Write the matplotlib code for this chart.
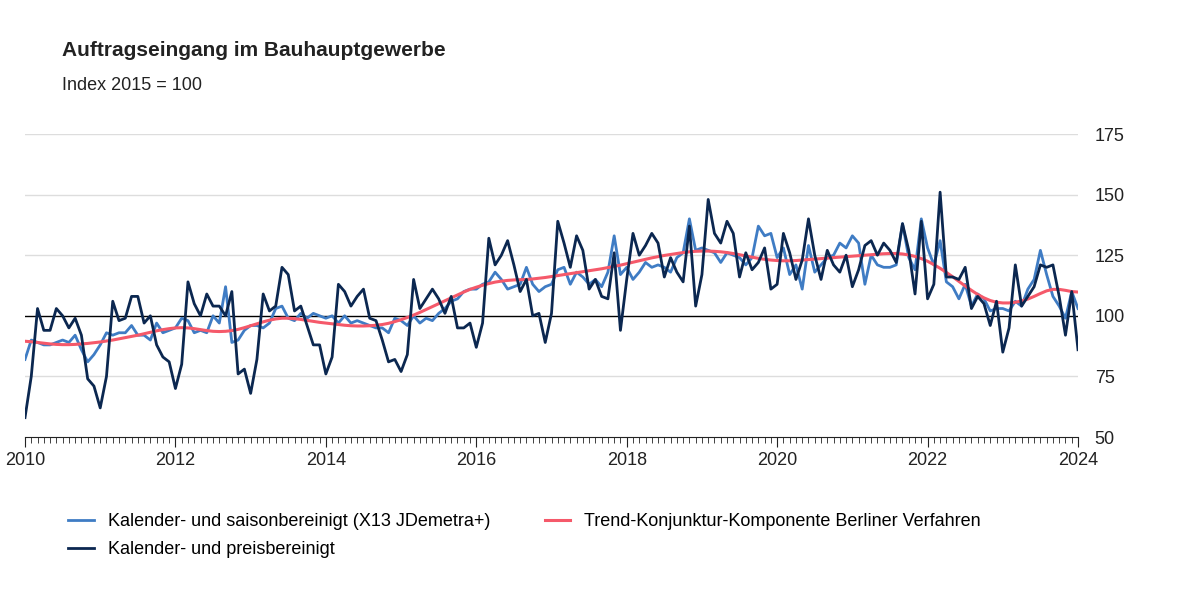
import numpy as np
import pandas as pd
import matplotlib.pyplot as plt

plt.rcParams['font.family'] = ['Liberation Sans', 'DejaVu Sans']

# Monthly values Jan 2010 .. Jan 2024 (index 2015 = 100)
months = pd.date_range('2010-01-01', '2024-01-01', freq='MS')

seasonal_adj = [
    82, 90, 89, 88, 88, 89, 90, 89, 92, 86, 81, 84,
    88, 93, 92, 93, 93, 96, 92, 92, 90, 97, 93, 94,
    95, 99, 98, 93, 94, 93, 100, 97, 112, 89, 90, 94,
    96, 96, 95, 97, 103, 104, 99, 98, 101, 99, 101, 100,
    99, 100, 97, 100, 97, 98, 97, 96, 95, 95, 93, 99,
    98, 96, 100, 97, 99, 98, 101, 103, 106, 107, 110, 111,
    111, 113, 114, 118, 115, 111, 112, 113, 120, 113, 110, 112,
    113, 119, 120, 113, 118, 116, 113, 115, 112, 118, 133, 117,
    120, 115, 118, 122, 120, 121, 120, 118, 124, 126, 140, 127,
    128, 127, 126, 122, 126, 125, 124, 121, 124, 137, 133, 134,
    124, 128, 117, 121, 111, 129, 118, 121, 124, 125, 130, 128,
    133, 130, 113, 125, 121, 120, 120, 121, 138, 124, 119, 140,
    128, 121, 131, 114, 112, 107, 113, 104, 109, 107, 102, 103,
    103, 102, 106, 104, 111, 115, 127, 117, 108, 104, 99, 110,
    103,
]

price_adj = [
    58, 75, 103, 94, 94, 103, 100, 95, 99, 92, 74, 71,
    62, 75, 106, 98, 99, 108, 108, 97, 100, 88, 83, 81,
    70, 80, 114, 105, 100, 109, 104, 104, 100, 110, 76, 78,
    68, 82, 109, 102, 104, 120, 117, 102, 104, 96, 88, 88,
    76, 83, 113, 110, 104, 108, 111, 99, 98, 90, 81, 82,
    77, 84, 115, 103, 107, 111, 107, 101, 108, 95, 95, 97,
    87, 97, 132, 121, 125, 131, 121, 110, 115, 100, 101, 89,
    101, 139, 130, 120, 133, 127, 111, 115, 108, 107, 126, 94,
    115, 134, 125, 129, 134, 130, 116, 124, 118, 114, 137, 104,
    117, 148, 134, 130, 139, 134, 116, 126, 119, 122, 128, 111,
    113, 134, 126, 115, 123, 140, 125, 115, 127, 121, 118, 125,
    112, 119, 129, 131, 125, 130, 127, 122, 138, 127, 109, 139,
    107, 113, 151, 116, 116, 115, 120, 103, 108, 105, 96, 106,
    85, 95, 121, 104, 108, 112, 121, 120, 121, 108, 92, 110,
    86,
]

trend = [
    89.5, 89.3, 89.0, 88.7, 88.4, 88.2, 88.1, 88.1, 88.2, 88.4, 88.6, 88.9,
    89.2, 89.6, 90.0, 90.5, 91.0, 91.5, 92.0, 92.6, 93.2, 93.8, 94.3, 94.7,
    95.0, 95.1, 95.0, 94.7, 94.3, 93.9, 93.6, 93.5, 93.6, 93.9, 94.4, 95.1,
    95.9, 96.7, 97.5, 98.2, 98.7, 99.0, 99.0, 98.8, 98.5, 98.1, 97.7, 97.3,
    97.0, 96.7, 96.4, 96.1, 95.9, 95.8, 95.8, 95.9, 96.1, 96.4, 96.9, 97.6,
    98.4, 99.3, 100.3, 101.4, 102.6, 103.8, 105.0, 106.2, 107.4, 108.6, 109.8, 110.9,
    111.8, 112.6, 113.3, 113.9, 114.3, 114.6, 114.8, 114.9, 115.0, 115.2, 115.5, 115.8,
    116.2, 116.6, 117.0, 117.4, 117.8, 118.2, 118.6, 119.0, 119.4, 119.9, 120.4, 120.9,
    121.5, 122.1, 122.7, 123.3, 123.9, 124.4, 124.9, 125.3, 125.7, 126.1, 126.4, 126.6,
    126.7, 126.7, 126.6, 126.4, 126.1, 125.7, 125.2, 124.7, 124.2, 123.7, 123.3, 123.0,
    122.8, 122.7, 122.7, 122.8, 123.0, 123.2, 123.4, 123.6, 123.8, 124.0, 124.2, 124.4,
    124.6, 124.8, 125.0, 125.2, 125.4, 125.6, 125.7, 125.7, 125.5, 125.1, 124.5, 123.6,
    122.5, 121.1, 119.6, 117.9, 116.1, 114.2, 112.3, 110.5, 108.8, 107.4, 106.3, 105.6,
    105.3, 105.3, 105.6, 106.1, 106.9, 108.0, 109.2, 110.3, 110.9, 110.9, 110.5, 110.0,
    109.8,
]

year_ticks = list(range(2010, 2025, 2))

c_light = '#3f7cc4'
c_dark = '#0b2750'
c_red = '#f5596a'

fig = plt.figure(figsize=(12, 6), dpi=100)
ax = fig.add_axes([25 / 1200, 1 - 437 / 600, 1053 / 1200, 303 / 600])

x = np.arange(len(months))
l1, = ax.plot(x, seasonal_adj, color=c_light, lw=2.0)
l2, = ax.plot(x, trend, color=c_red, lw=2.2)
l3, = ax.plot(x, price_adj, color=c_dark, lw=2.0)

ax.set_xlim(0, len(months) - 1)
ax.set_ylim(50, 175)
ax.set_yticks([50, 75, 100, 125, 150, 175])
for v in [75, 125, 150, 175]:
    ax.axhline(v, color='#dddddd', lw=1, zorder=0)
ax.axhline(100, color='black', lw=1, zorder=1)

ax.yaxis.tick_right()
ax.tick_params(axis='y', length=0, labelsize=13, pad=12, colors='#222222')
ax.set_xticks([(y - 2010) * 12 for y in year_ticks])
ax.set_xticklabels([str(y) for y in year_ticks])
ax.set_xticks(x, minor=True)
ax.tick_params(axis='x', which='major', length=7, labelsize=13, colors='#222222')
ax.tick_params(axis='x', which='minor', length=4, color='#222222')
for s in ['top', 'left', 'right']:
    ax.spines[s].set_visible(False)
ax.spines['bottom'].set_color('#222222')

fig.text(62 / 1200, 1 - 50 / 600, 'Auftragseingang im Bauhauptgewerbe', fontsize=15,
         fontweight='bold', va='center', color='#222222')
fig.text(62 / 1200, 1 - 86 / 600, 'Index 2015 = 100', fontsize=13, va='center', color='#222222')

# column-major order: light + dark in column 1, trend in column 2
fig.legend([l1, l3, l2],
           ['Kalender- und saisonbereinigt (X13 JDemetra+)',
            'Kalender- und preisbereinigt',
            'Trend-Konjunktur-Komponente Berliner Verfahren'],
           loc='upper left', bbox_to_anchor=(52 / 1200, 1 - 497 / 600), ncol=2,
           frameon=False, fontsize=13, handlelength=1.4, columnspacing=3.0,
           labelspacing=0.6)

fig.savefig('out.png', dpi=100, facecolor='white')
plt.close()
